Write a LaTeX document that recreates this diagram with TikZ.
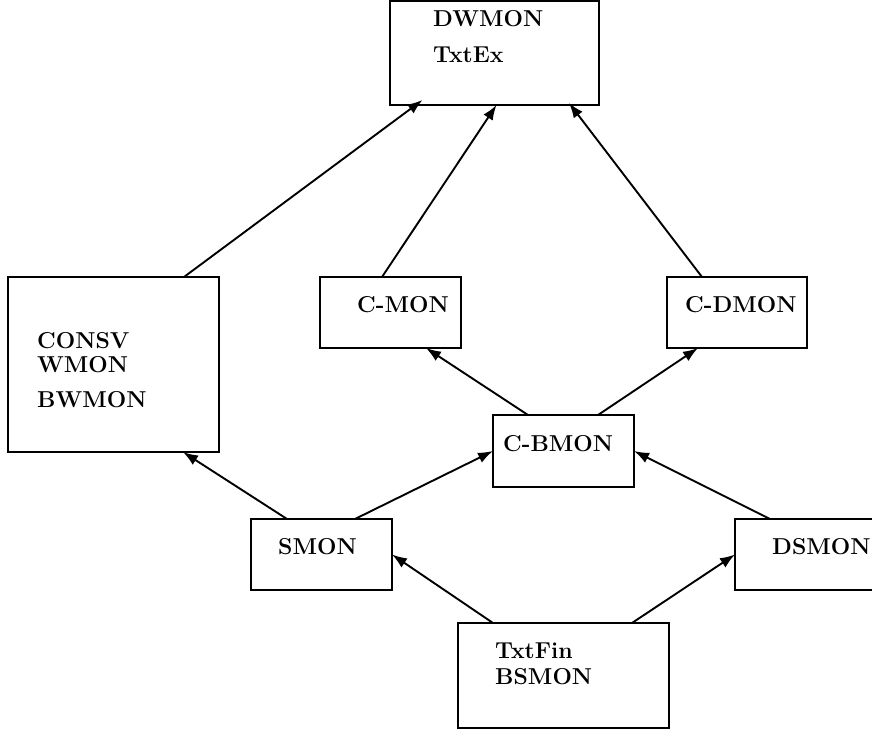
\documentclass[tikz,border=0pt]{standalone}
\usetikzlibrary{arrows.meta}
\begin{document}
\begin{tikzpicture}[x=1pt,y=1pt,
  box/.style={draw,line width=2pt,inner sep=0pt,outer sep=0pt},
  lbl/.style={anchor=base west,inner sep=0pt,font=\fontsize{23}{27}\selectfont\bfseries},
  arr/.style={line width=1.9pt,-{Latex[length=15pt,width=11pt]}}]
\path[use as bounding box,clip] (0,0) rectangle (872,733);
% boxes
\node[box,minimum width=209pt,minimum height=104pt] (dw) at (494.5,680) {};
\node[box,minimum width=211pt,minimum height=175pt] (consv) at (113.5,368.5) {};
\node[box,minimum width=141pt,minimum height=71pt] (cmon) at (390.5,420.5) {};
\node[box,minimum width=140pt,minimum height=71pt] (cdmon) at (737,420.5) {};
\node[box,minimum width=141pt,minimum height=72pt] (cbmon) at (563.5,282) {};
\node[box,minimum width=141pt,minimum height=71pt] (smon) at (321.5,178.5) {};
\node[box,minimum width=141pt,minimum height=71pt] (dsmon) at (805.5,178.5) {};
\node[box,minimum width=211pt,minimum height=105pt] (txtfin) at (563.5,57.5) {};
% labels
\node[lbl] (t1) at (433,706) {DWMON};
\node[lbl] (t2) at (433,670) {TxtEx};
\node[lbl] (t3) at (37,384) {CONSV};
\node[lbl] (t4) at (37,360) {WMON};
\node[lbl] (t5) at (37,325) {BWMON};
\node[lbl] (t6) at (357,420) {C-MON};
\node[lbl] (t7) at (685,420) {C-DMON};
\node[lbl] (t8) at (503,281) {C-BMON};
\node[lbl] (t9) at (278,178) {SMON};
\node[lbl] (t10) at (772,178) {DSMON};
\node[lbl] (t11) at (495,74) {TxtFin};
\node[lbl] (t12) at (495,48) {BSMON};
% arrows
\draw[arr] ([xshift=70.5pt]consv.north) -- ([xshift=-72pt,yshift=5pt]dw.south);
\draw[arr] ([xshift=-8.5pt]cmon.north) -- ([xshift=2pt]dw.south);
\draw[arr] ([xshift=-35pt]cdmon.north) -- ([xshift=74.5pt,yshift=2pt]dw.south);
\draw[arr] ([xshift=-35.5pt]cbmon.north) -- ([xshift=35.5pt]cmon.south);
\draw[arr] ([xshift=34.5pt]cbmon.north) -- ([xshift=-39pt]cdmon.south);
\draw[arr] ([xshift=-34.5pt]smon.north) -- ([xshift=69.5pt]consv.south);
\draw[arr] ([xshift=33.5pt]smon.north) -- (cbmon.west);
\draw[arr] ([xshift=-35.5pt]dsmon.north) -- (cbmon.east);
\draw[arr] ([xshift=-70.5pt]txtfin.north) -- (smon.east);
\draw[arr] ([xshift=68.5pt]txtfin.north) -- (dsmon.west);
\end{tikzpicture}
\end{document}
